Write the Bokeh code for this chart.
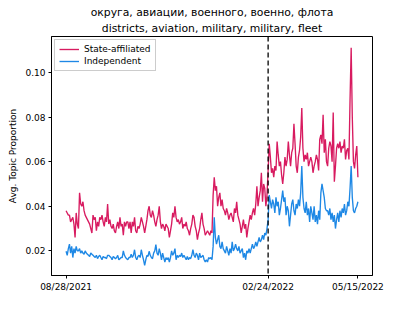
import pandas as pd
from bokeh.plotting import figure
from bokeh.models import (Range1d, FixedTicker, DatetimeTickFormatter, Span, Title,
                          NumeralTickFormatter)
from bokeh.embed import file_html
from bokeh.resources import INLINE

title_ru = "округа, авиации, военного, военно, флота"
title_en = "districts, aviation, military, military, fleet"
y_label = "Avg. Topic Proportion"
start_date = "2021-08-28"
invasion_date = "2022-02-24"
tick_dates = ["2021-08-28", "2022-02-24", "2022-05-15"]
y_ticks = [0.02, 0.04, 0.06, 0.08, 0.10]

state_affiliated = [
    .038, .037, .036, .036, .033, .034, .035, .032, .026, .037,
    .032, .030, .046, .041, .040, .042, .038, .036, .035, .034,
    .033, .032, .030, .028, .036, .034, .035, .029, .033, .031,
    .035, .034, .036, .033, .031, .035, .033, .041, .032, .034,
    .031, .030, .032, .029, .028, .031, .033, .030, .035, .031,
    .032, .027, .033, .031, .033, .033, .030, .033, .028, .033,
    .031, .035, .029, .028, .031, .030, .032, .035, .033, .031,
    .028, .031, .034, .038, .040, .036, .035, .038, .036, .033,
    .031, .034, .036, .040, .033, .030, .032, .031, .029, .032,
    .031, .030, .026, .029, .032, .037, .035, .040, .035, .033,
    .034, .032, .033, .035, .030, .032, .031, .033, .030, .029,
    .027, .030, .032, .036, .035, .031, .029, .025, .028, .030,
    .034, .037, .032, .030, .027, .028, .029, .028, .027, .029,
    .028, .045, .053, .047, .049, .040, .044, .046, .040, .043,
    .039, .038, .036, .039, .037, .034, .036, .037, .035, .033,
    .039, .037, .042, .036, .034, .032, .028, .031, .034, .030,
    .032, .026, .030, .033, .036, .034, .037, .039, .036, .041,
    .049, .040, .044, .047, .055, .042, .050, .048, .040, .045,
    .056, .068, .062, .055, .057, .053, .058, .056, .069, .063,
    .058, .060, .054, .050, .055, .062, .058, .061, .069, .063,
    .058, .064, .066, .077, .068, .058, .055, .062, .065, .071,
    .084, .066, .060, .063, .061, .064, .058, .060, .062, .060,
    .055, .058, .060, .063, .061, .056, .070, .072, .068, .081,
    .064, .070, .060, .058, .066, .069, .067, .060, .082, .051,
    .058, .066, .068, .066, .069, .064, .067, .066, .070, .061,
    .065, .066, .061, .088, .111, .080, .060, .057, .063, .067,
    .053,
]

independent = [
    .0198, .018, .021, .023, .019, .022, .017, .021, .019, .022,
    .020, .020, .021, .019, .020, .019, .0185, .020, .019, .0185,
    .018, .0175, .019, .0185, .018, .0175, .017, .018, .0165, .0175,
    .018, .017, .016, .0175, .017, .017, .0165, .018, .018, .0175,
    .017, .016, .0175, .017, .0165, .017, .018, .016, .0165, .017,
    .017, .020, .018, .017, .0165, .016, .017, .017, .0185, .017,
    .018, .0205, .017, .016, .0175, .018, .017, .0205, .018, .016,
    .0135, .016, .018, .0175, .0198, .018, .017, .0165, .019, .020,
    .0228, .019, .018, .021, .019, .016, .019, .017, .015, .017,
    .016, .017, .015, .017, .020, .018, .019, .021, .016, .018,
    .017, .018, .0175, .019, .017, .018, .017, .016, .0175, .016,
    .017, .0165, .018, .0205, .018, .017, .019, .018, .016, .019,
    .017, .0175, .018, .016, .015, .016, .015, .017, .0165, .017,
    .016, .022, .035, .026, .023, .025, .027, .022, .021, .024,
    .021, .020, .019, .022, .020, .018, .021, .019, .024, .020,
    .021, .023, .021, .020, .022, .019, .020, .021, .017, .019,
    .016, .020, .019, .021, .019, .021, .023, .021, .022, .024,
    .022, .024, .026, .024, .025, .027, .025, .028, .027, .030,
    .034, .045, .042, .039, .043, .041, .037, .044, .040, .042,
    .036, .039, .043, .047, .042, .044, .036, .040, .038, .031,
    .036, .041, .043, .038, .036, .041, .039, .043, .040, .046,
    .058, .044, .039, .037, .042, .036, .039, .033, .040, .037,
    .034, .040, .033, .036, .032, .038, .034, .046, .050, .047,
    .044, .039, .038, .038, .036, .039, .034, .037, .033, .036,
    .030, .034, .037, .033, .038, .035, .039, .037, .041, .036,
    .038, .042, .040, .048, .058, .044, .038, .037, .039, .040,
    .042,
]

dates = pd.date_range(start_date, periods=len(state_affiliated), freq="D")
pad = pd.Timedelta(days=13)

FONT = "DejaVu Sans"
p = figure(width=413, height=309, output_backend="svg", toolbar_location=None,
           x_axis_type="datetime",
           x_range=Range1d(dates[0] - pad, dates[-1] + pad),
           y_range=Range1d(0.00895, 0.1161),
           min_border_left=51, min_border_right=41, min_border_top=36, min_border_bottom=34)

p.title.text = title_ru
p.title.align = "center"
p.title.text_font = FONT
p.title.text_font_size = "10.8px"
p.title.text_font_style = "normal"
p.title.text_color = "black"
p.title.standoff = 0
p.add_layout(Title(text=title_en, align="center", text_font=FONT, text_font_size="10.8px",
                   text_font_style="normal", text_color="black", standoff=3), "above")

p.line(dates, state_affiliated, line_color="#d81b60", line_width=1.35, legend_label="State-affiliated")
p.line(dates, independent, line_color="#1e88e5", line_width=1.35, legend_label="Independent")

p.add_layout(Span(location=pd.Timestamp(invasion_date).value / 1e6, dimension="height",
                  line_color="black", line_dash="5 3", line_width=1.3))

tick_ms = [pd.Timestamp(d).value / 1e6 for d in tick_dates]
p.xaxis.ticker = FixedTicker(ticks=tick_ms)
fmt = "%m/%d/%Y"
p.xaxis.formatter = DatetimeTickFormatter(microseconds=fmt, milliseconds=fmt, seconds=fmt,
                                          minsec=fmt, minutes=fmt, hourmin=fmt, hours=fmt,
                                          days=fmt, months=fmt, years=fmt,
                                          strip_leading_zeros=False)
p.yaxis.ticker = FixedTicker(ticks=y_ticks)
p.yaxis.formatter = NumeralTickFormatter(format="0.00")
p.yaxis.axis_label = y_label

for ax in (p.xaxis, p.yaxis):
    ax.axis_line_color = "black"
    ax.axis_line_width = 1
    ax.major_tick_line_color = "black"
    ax.major_tick_in = 0
    ax.major_tick_out = 3
    ax.minor_tick_line_color = None
    ax.major_label_text_font = FONT
    ax.major_label_text_font_size = "9px"
    ax.major_label_text_color = "black"
    ax.major_label_standoff = 3
    ax.axis_label_text_font = FONT
    ax.axis_label_text_font_size = "9px"
    ax.axis_label_text_font_style = "normal"
    ax.axis_label_text_color = "black"
    ax.axis_label_standoff = 4

p.xgrid.grid_line_color = None
p.ygrid.grid_line_color = None
p.outline_line_color = "black"
p.outline_line_width = 1
p.outline_line_alpha = 1

lg = p.legend[0]
lg.location = "top_left"
lg.margin = 3
lg.padding = 4
lg.spacing = 2
lg.glyph_width = 20
lg.glyph_height = 10
lg.label_height = 10
lg.label_standoff = 5
lg.label_text_font = FONT
lg.label_text_font_size = "9px"
lg.label_text_color = "black"
lg.border_line_color = "#cccccc"
lg.border_line_alpha = 1
lg.background_fill_alpha = 0.8

open("out.html", "w").write(file_html(p, INLINE))
